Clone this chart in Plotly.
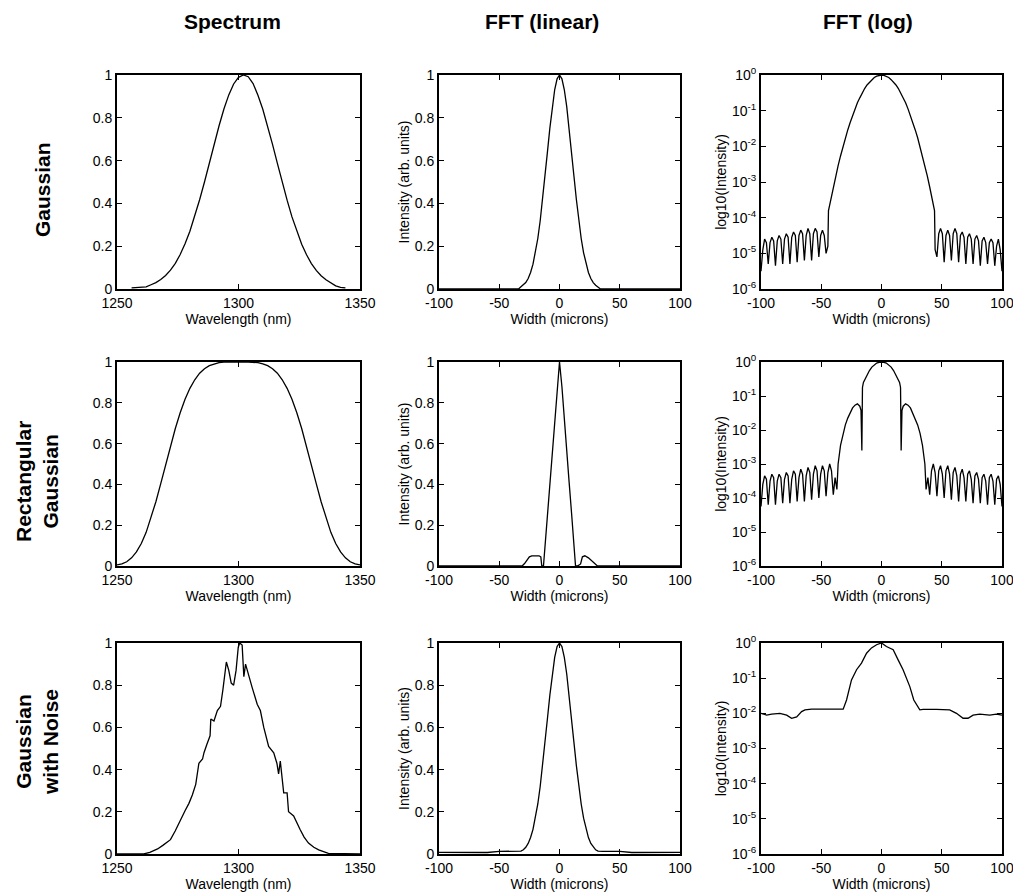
import numpy as np
import plotly.graph_objects as go

# ---------------- labels ----------------
col_titles = ["Spectrum", "FFT (linear)", "FFT (log)"]
row_titles = ["Gaussian", "Rectangular<br>Gaussian", "Gaussian<br>with Noise"]
x_titles = ["Wavelength (nm)", "Width (microns)", "Width (microns)"]
y_titles = ["", "Intensity (arb. units)", "log10(Intensity)"]
lin_ticks = [0, 0.2, 0.4, 0.6, 0.8, 1]
lin_ticktext = ["0", "0.2", "0.4", "0.6", "0.8", "1"]
wl_ticks = [1250, 1300, 1350]
width_ticks = [-100, -50, 0, 50, 100]
width_ticktext = ["-100", "-50", "0", "50", "100"]
log_exps = [-6, -5, -4, -3, -2, -1, 0]

# ---------------- row 1: Gaussian ----------------
spec_gauss_wl = np.arange(1256, 1345, 2)
spec_gauss_val = [0.005, 0.006, 0.007, 0.010, 0.020, 0.030, 0.044, 0.063, 0.088, 0.120, 0.161,
                  0.211, 0.270, 0.339, 0.417, 0.500, 0.589, 0.678, 0.763, 0.841, 0.907, 0.958,
                  0.989, 1.000, 0.992, 0.960, 0.905, 0.840, 0.760, 0.676, 0.587, 0.498, 0.415,
                  0.337, 0.268, 0.209, 0.160, 0.119, 0.087, 0.062, 0.043, 0.029, 0.015, 0.008, 0.005]

fft_gauss_x = [-100, -34] + list(np.arange(-32, 33, 2)) + [34, 100]
fft_gauss_val = [0, 0, 0.010, 0.018, 0.030, 0.049, 0.077, 0.116, 0.169, 0.236, 0.320, 0.418,
                 0.527, 0.641, 0.752, 0.852, 0.931, 0.982, 1.000, 0.982, 0.931, 0.852, 0.752,
                 0.641, 0.527, 0.418, 0.320, 0.236, 0.169, 0.116, 0.077, 0.049, 0.030, 0.018,
                 0.010, 0, 0]

log_gauss_left_x = np.arange(-100, -44.4, 1.5)
log_gauss_left = [-5.5, -4.9, -4.6, -4.7, -5.3, -4.7, -4.55, -4.65, -5.35, -4.65, -4.5, -4.6,
                  -5.3, -4.6, -4.45, -4.55, -5.3, -4.55, -4.4, -4.5, -5.25, -4.5, -4.35, -4.45,
                  -5.2, -4.5, -4.3, -4.45, -5.2, -4.45, -4.3, -4.4, -5.1, -4.5, -4.35, -4.5,
                  -5.0, -4.8]
log_gauss_mid_x = np.arange(-44, 45, 2)
log_gauss_mid = [-3.80, -3.46, -3.14, -2.83, -2.54, -2.27, -2.01, -1.76, -1.54, -1.33, -1.13,
                 -0.95, -0.78, -0.64, -0.50, -0.38, -0.28, -0.20, -0.13, -0.07, -0.03, -0.01, 0,
                 -0.01, -0.03, -0.07, -0.13, -0.20, -0.28, -0.38, -0.50, -0.64, -0.78, -0.95,
                 -1.13, -1.33, -1.54, -1.76, -2.01, -2.27, -2.54, -2.83, -3.14, -3.46, -3.80]
log_gauss_right_x = np.arange(44.5, 100.01, 1.5)
log_gauss_right = [-4.9, -5.1, -4.45, -4.3, -4.45, -5.25, -4.5, -4.35, -4.5, -5.2, -4.45, -4.3,
                   -4.45, -5.25, -4.5, -4.4, -4.55, -5.3, -4.55, -4.45, -4.6, -5.3, -4.6, -4.5,
                   -4.65, -5.35, -4.65, -4.55, -4.7, -5.3, -4.7, -4.6, -4.7, -5.35, -4.8, -4.6,
                   -4.9, -5.5]

# ---------------- row 2: Rectangular Gaussian ----------------
spec_rect_wl = np.arange(1250, 1351, 2)
spec_rect_val = [0.005, 0.010, 0.021, 0.040, 0.069, 0.110, 0.165, 0.235, 0.315, 0.404, 0.496,
                 0.588, 0.674, 0.751, 0.817, 0.871, 0.913, 0.945, 0.967, 0.982, 0.991, 0.997,
                 0.999, 1.000, 1.000, 1.000, 1.000, 1.000, 0.999, 0.997, 0.991, 0.982, 0.967,
                 0.945, 0.913, 0.871, 0.817, 0.751, 0.674, 0.588, 0.496, 0.404, 0.315, 0.235,
                 0.165, 0.110, 0.069, 0.040, 0.021, 0.010, 0.005]

fft_rect_x = [-100, -31, -29, -27, -25, -23, -20, -17, -15.5, -14.7, -13.3, -12, -10, -8, -6,
              -4, -2, 0, 2, 4, 6, 8, 10, 12, 13.3, 15, 17.5, 19, 21, 24, 27, 29.5, 31.5, 100]
fft_rect_val = [0, 0, 0.012, 0.03, 0.045, 0.05, 0.05, 0.05, 0.045, 0, 0, 0.10, 0.26, 0.41,
                0.56, 0.71, 0.88, 1.0, 0.88, 0.71, 0.56, 0.41, 0.26, 0.10, 0, 0, 0.01, 0.045,
                0.05, 0.04, 0.025, 0.01, 0, 0]

log_rect_left_x = np.arange(-100, -36.9, 1.5)
log_rect_left = [-4.25, -3.6, -3.35, -3.45, -4.2, -3.5, -3.3, -3.4, -4.2, -3.5, -3.3, -3.4,
                 -4.15, -3.45, -3.25, -3.35, -4.15, -3.45, -3.2, -3.3, -4.1, -3.4, -3.15, -3.3,
                 -4.1, -3.35, -3.1, -3.25, -4.05, -3.3, -3.05, -3.2, -4.0, -3.3, -3.05, -3.2,
                 -3.95, -3.25, -3.0, -3.2, -3.9, -3.4, -3.75]
log_rect_mid_x = [-36, -34, -32, -30, -28, -26, -24, -22, -20, -18, -17, -16.3, -15.8, -15,
                  -14, -12, -10, -8, -6, -4, -2, 0, 2, 4, 6, 8, 10, 12, 14, 15, 15.8, 16.3, 17,
                  18, 20, 22, 24, 26, 28, 30, 32, 34, 36]
log_rect_mid = [-3.0, -2.45, -2.1, -1.85, -1.65, -1.5, -1.35, -1.27, -1.23, -1.3, -1.42, -2.6,
                -0.75, -0.6, -0.52, -0.4, -0.25, -0.15, -0.08, -0.03, -0.01, 0, -0.01, -0.03,
                -0.08, -0.15, -0.25, -0.4, -0.52, -0.6, -0.75, -2.6, -1.42, -1.3, -1.23, -1.27,
                -1.35, -1.5, -1.65, -1.85, -2.1, -2.45, -3.0]
log_rect_right_x = np.arange(37, 100.01, 1.5)
log_rect_right = [-3.75, -3.4, -3.9, -3.2, -3.0, -3.25, -3.95, -3.2, -3.05, -3.3, -4.0, -3.2,
                  -3.05, -3.3, -4.05, -3.25, -3.1, -3.35, -4.1, -3.3, -3.15, -3.4, -4.1, -3.3,
                  -3.2, -3.45, -4.15, -3.35, -3.25, -3.45, -4.15, -3.4, -3.3, -3.5, -4.2, -3.4,
                  -3.3, -3.5, -4.2, -3.45, -3.35, -3.6, -4.25]

# ---------------- row 3: Gaussian with noise ----------------
spec_noise_wl = [1250, 1261, 1263.5, 1266.7, 1269, 1272, 1274, 1276, 1278, 1279.6, 1281,
                 1282.4, 1283.7, 1285.2, 1285.8, 1287, 1288.3, 1288.6, 1289.9, 1291.3, 1292.6,
                 1293.6, 1294.7, 1295, 1296, 1297, 1298, 1299, 1299.9, 1300.5, 1301.5, 1302.2,
                 1302.9, 1303.6, 1305.6, 1307.7, 1309, 1310.4, 1312.4, 1314.5, 1315.8, 1316.5,
                 1317.2, 1318.6, 1320, 1320.6, 1322.7, 1325.4, 1327, 1328.8, 1331, 1333, 1337,
                 1350]
spec_noise_val = [0, 0, 0.008, 0.024, 0.042, 0.068, 0.11, 0.16, 0.205, 0.24, 0.28, 0.33, 0.43,
                  0.45, 0.48, 0.52, 0.56, 0.64, 0.63, 0.68, 0.70, 0.78, 0.87, 0.91, 0.87, 0.81,
                  0.80, 0.87, 0.98, 1.0, 0.99, 0.84, 0.90, 0.87, 0.79, 0.71, 0.68, 0.60, 0.51,
                  0.48, 0.43, 0.38, 0.44, 0.29, 0.29, 0.20, 0.18, 0.115, 0.08, 0.052, 0.032,
                  0.02, 0.003, 0]

fft_noise_x = [-100, -60, -50, -36] + list(np.arange(-32, 33, 2)) + [36, 50, 60, 100]
fft_noise_val = [0.008, 0.007, 0.012, 0.012, 0.014, 0.020, 0.032, 0.050, 0.078, 0.117, 0.170,
                 0.237, 0.321, 0.419, 0.528, 0.642, 0.753, 0.853, 0.932, 0.983, 1.000, 0.983,
                 0.932, 0.853, 0.753, 0.642, 0.528, 0.419, 0.321, 0.237, 0.170, 0.117, 0.078,
                 0.050, 0.032, 0.020, 0.014, 0.012, 0.012, 0.007, 0.008]

log_noise_x = [-100, -95.3, -91.2, -84.3, -78.7, -74.6, -70.4, -66.3, -63.5, -58, -48.3, -40,
               -31.8, -29, -24.9, -20.7, -16.6, -12.4, -8.3, -4.1, 0, 4.1, 9.7, 13.8, 17.9,
               23.5, 26.8, 31.8, 34.5, 45.6, 56.6, 62.2, 67.7, 71.8, 76, 81.5, 89.8, 95.3, 100]
log_noise_exp = [-2.0, -2.05, -2.02, -2.0, -2.05, -2.14, -2.1, -1.95, -1.9, -1.88, -1.88, -1.88,
                 -1.88, -1.62, -1.05, -0.76, -0.57, -0.29, -0.14, -0.05, 0, -0.1, -0.19, -0.48,
                 -0.76, -1.24, -1.62, -1.9, -1.89, -1.89, -1.9, -2.0, -2.14, -2.14, -2.05,
                 -2.02, -2.05, -2.02, -2.05]

# ---------------- figure ----------------
W, H = 1013, 893
cols_px = [(117, 360), (439, 680), (761, 1002)]
rows_px = [(75, 289), (362, 566), (643, 854)]

panels = [
    [(spec_gauss_wl, spec_gauss_val, False), (fft_gauss_x, fft_gauss_val, False),
     (np.concatenate([log_gauss_left_x, log_gauss_mid_x, log_gauss_right_x]),
      np.concatenate([log_gauss_left, log_gauss_mid, log_gauss_right]), True)],
    [(spec_rect_wl, spec_rect_val, False), (fft_rect_x, fft_rect_val, False),
     (np.concatenate([log_rect_left_x, log_rect_mid_x, log_rect_right_x]),
      np.concatenate([log_rect_left, log_rect_mid, log_rect_right]), True)],
    [(spec_noise_wl, spec_noise_val, False), (fft_noise_x, fft_noise_val, False),
     (log_noise_x, log_noise_exp, True)],
]

fig = go.Figure()
tickfont = dict(family="Arial", size=14, color="black")
titlefont = dict(family="Arial", size=14, color="black")
axis_common = dict(showline=True, linecolor="black", linewidth=2, mirror="ticks",
                   ticks="inside", ticklen=5, tickwidth=1, tickcolor="black",
                   showgrid=False, zeroline=False, tickfont=tickfont, automargin=False,
                   ticklabeloverflow="allow")

layout = {}
n = 0
for r in range(3):
    for c in range(3):
        n += 1
        xs, ys, is_log = panels[r][c]
        ys = np.asarray(ys, dtype=float)
        if is_log:
            ys = 10.0 ** ys
        xa = "x" if n == 1 else f"x{n}"
        ya = "y" if n == 1 else f"y{n}"
        fig.add_trace(go.Scatter(x=list(xs), y=list(ys), mode="lines",
                                 line=dict(color="black", width=1.3),
                                 xaxis=xa, yaxis=ya, showlegend=False))
        x0, x1 = cols_px[c]
        yt, yb = rows_px[r]
        xdom = [x0 / W, x1 / W]
        ydom = [1 - yb / H, 1 - yt / H]
        xkey = "xaxis" if n == 1 else f"xaxis{n}"
        ykey = "yaxis" if n == 1 else f"yaxis{n}"
        xcfg = dict(axis_common, domain=xdom, anchor=ya,
                    title=dict(text=x_titles[c], font=titlefont, standoff=0))
        if c == 0:
            xcfg.update(range=[1250, 1350], tickvals=wl_ticks)
        else:
            xcfg.update(range=[-100, 100], tickvals=width_ticks, ticktext=width_ticktext)
        ycfg = dict(axis_common, domain=ydom, anchor=xa)
        if c == 2:
            ycfg.update(type="log", range=[-6, 0],
                        tickvals=[10.0 ** e for e in log_exps],
                        ticktext=[f"10<sup>{e}</sup>" for e in log_exps])
        else:
            ycfg.update(range=[0, 1], tickvals=lin_ticks, ticktext=lin_ticktext)
        if y_titles[c]:
            ycfg.update(title=dict(text=y_titles[c], font=titlefont, standoff=2))
        layout[xkey] = xcfg
        layout[ykey] = ycfg

annotations = []
col_title_x = [232, 542, 868]
for t, xp in zip(col_titles, col_title_x):
    annotations.append(dict(text=f"<b>{t}</b>", x=xp / W, y=1 - 22 / H, xref="paper",
                            yref="paper", showarrow=False, xanchor="center", yanchor="middle",
                            font=dict(family="Arial", size=21, color="black")))
row_title_pos = [(43, 190), (37, 482), (37, 742)]
for t, (xp, yp) in zip(row_titles, row_title_pos):
    annotations.append(dict(text=f"<b>{t}</b>", x=xp / W, y=1 - yp / H, xref="paper",
                            yref="paper", showarrow=False, textangle=-90,
                            xanchor="center", yanchor="middle",
                            font=dict(family="Arial", size=21, color="black")))

fig.update_layout(width=W, height=H, margin=dict(l=0, r=0, t=0, b=0, autoexpand=False),
                  paper_bgcolor="white", plot_bgcolor="white",
                  annotations=annotations, **layout)
fig.write_html("out.html")
